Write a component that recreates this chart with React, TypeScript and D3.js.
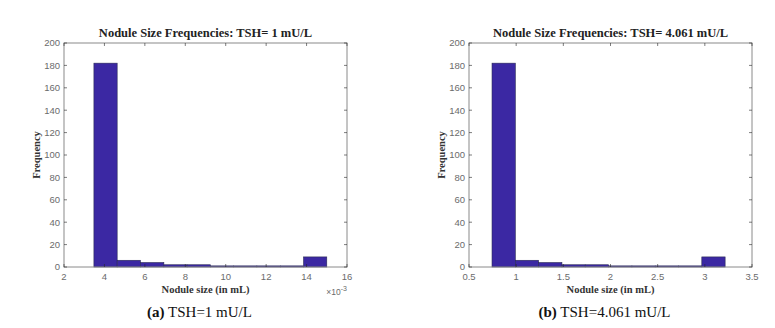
import React from "react";
import * as d3 from "d3";

const frequencies = [182, 6, 4, 2, 2, 1, 1, 1, 1, 9];
const edgesA = [3.48, 4.63, 5.78, 6.94, 8.09, 9.24, 10.39, 11.54, 12.7, 13.85, 15.0];
const edgesB = [0.744, 0.991, 1.238, 1.485, 1.732, 1.98, 2.227, 2.474, 2.721, 2.968, 3.215];
const xTicksA = [2, 4, 6, 8, 10, 12, 14, 16];
const xTicksB = [0.5, 1, 1.5, 2, 2.5, 3, 3.5];
const yTicks = [0, 20, 40, 60, 80, 100, 120, 140, 160, 180, 200];

type PanelProps = {
  left: number;
  right: number;
  top: number;
  bottom: number;
  edges: number[];
  counts: number[];
  xDomain: [number, number];
  xTicks: number[];
  title: string;
  captionBold: string;
  caption: string;
  exponent?: boolean;
};

function Panel(p: PanelProps) {
  const x = d3.scaleLinear().domain(p.xDomain).range([p.left, p.right]);
  const y = d3.scaleLinear().domain([0, 200]).range([p.bottom, p.top]);
  const cx = (p.left + p.right) / 2;
  const tickColor = "#262626";
  const labelColor = "#6b6b6b";
  const tl = 3;
  return (
    <g>
      <rect x={p.left} y={p.top} width={p.right - p.left} height={p.bottom - p.top} fill="#fff" />
      {p.counts.map((c, i) => (
        <rect
          key={i}
          x={x(p.edges[i])}
          y={y(c)}
          width={x(p.edges[i + 1]) - x(p.edges[i])}
          height={y(0) - y(c)}
          fill="#3b28a3"
          stroke="#2a2a55"
          strokeWidth={0.6}
        />
      ))}
      <rect
        x={p.left}
        y={p.top}
        width={p.right - p.left}
        height={p.bottom - p.top}
        fill="none"
        stroke="#8a8a8a"
        strokeWidth={1}
      />
      {p.xTicks.map((t) => (
        <g key={"x" + t}>
          <line x1={x(t)} x2={x(t)} y1={p.bottom} y2={p.bottom - tl} stroke={tickColor} strokeWidth={0.6} />
          <line x1={x(t)} x2={x(t)} y1={p.top} y2={p.top + tl} stroke={tickColor} strokeWidth={0.6} />
          <text
            x={x(t)}
            y={p.bottom + 13}
            textAnchor="middle"
            fontFamily="Liberation Sans, Arial, sans-serif"
            fontSize={9.5}
            fill={labelColor}
          >
            {t}
          </text>
        </g>
      ))}
      {yTicks.map((t) => (
        <g key={"y" + t}>
          <line x1={p.left} x2={p.left + tl} y1={y(t)} y2={y(t)} stroke={tickColor} strokeWidth={0.6} />
          <line x1={p.right} x2={p.right - tl} y1={y(t)} y2={y(t)} stroke={tickColor} strokeWidth={0.6} />
          <text
            x={p.left - 4}
            y={y(t) + 3.3}
            textAnchor="end"
            fontFamily="Liberation Sans, Arial, sans-serif"
            fontSize={9.5}
            fill={labelColor}
          >
            {t}
          </text>
        </g>
      ))}
      <text
        x={cx}
        y={p.top - 6}
        textAnchor="middle"
        fontFamily="Liberation Serif, Times New Roman, serif"
        fontWeight="bold"
        fontSize={12.5}
        fill="#222"
      >
        {p.title}
      </text>
      <text
        x={cx}
        y={p.bottom + 26}
        textAnchor="middle"
        fontFamily="Liberation Serif, Times New Roman, serif"
        fontWeight="bold"
        fontSize={10.5}
        fill="#333"
      >
        Nodule size (in mL)
      </text>
      <text
        transform={`translate(${p.left - 24},${(p.top + p.bottom) / 2}) rotate(-90)`}
        textAnchor="middle"
        fontFamily="Liberation Serif, Times New Roman, serif"
        fontWeight="bold"
        fontSize={10.5}
        fill="#333"
      >
        Frequency
      </text>
      {p.exponent && (
        <text
          x={p.right}
          y={p.bottom + 28}
          textAnchor="end"
          fontFamily="Liberation Sans, Arial, sans-serif"
          fontSize={8.5}
          fill={labelColor}
        >
          ×10
          <tspan dy={-4} fontSize={7}>
            -3
          </tspan>
        </text>
      )}
      <text
        x={cx - 6}
        y={p.bottom + 50}
        textAnchor="middle"
        fontFamily="Liberation Serif, Times New Roman, serif"
        fontSize={15}
        fill="#111"
      >
        <tspan fontWeight="bold">{p.captionBold}</tspan>
        <tspan> {p.caption}</tspan>
      </text>
    </g>
  );
}

export default function App() {
  return (
    <svg
      width={775}
      height={328}
      style={{ position: "absolute", left: 0, top: 0, background: "#fff" }}
    >
      <rect width={775} height={328} fill="#fff" />
      <Panel
        left={64}
        right={347}
        top={43}
        bottom={267}
        edges={edgesA}
        counts={frequencies}
        xDomain={[2, 16]}
        xTicks={xTicksA}
        title="Nodule Size Frequencies: TSH= 1 mU/L"
        captionBold="(a)"
        caption="TSH=1 mU/L"
        exponent
      />
      <Panel
        left={469}
        right={752}
        top={43}
        bottom={267}
        edges={edgesB}
        counts={frequencies}
        xDomain={[0.5, 3.5]}
        xTicks={xTicksB}
        title="Nodule Size Frequencies: TSH= 4.061 mU/L"
        captionBold="(b)"
        caption="TSH=4.061 mU/L"
      />
    </svg>
  );
}
